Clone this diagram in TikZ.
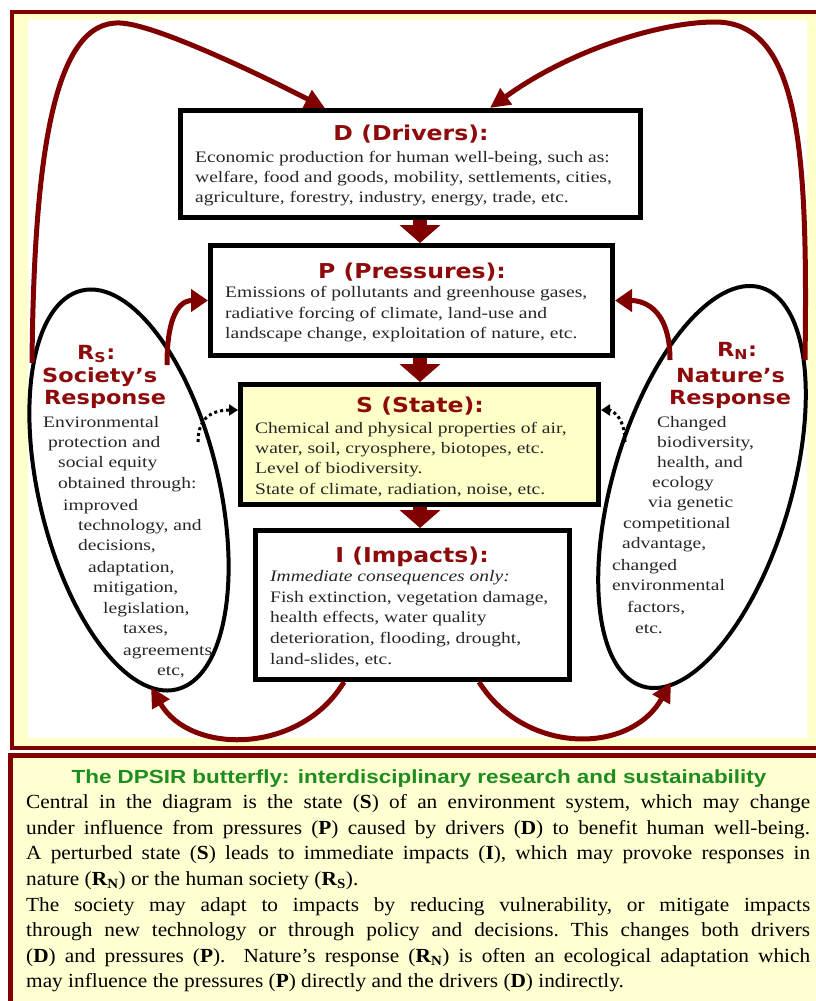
\documentclass[tikz,border=0pt]{standalone}
\usepackage{fontspec}
\setmainfont{Liberation Serif}
\newfontfamily\upserif[FakeStretch=1.22]{Liberation Serif}
\newfontfamily\lowserif[FakeStretch=1.065]{Liberation Serif}
\newfontfamily\upsans[FakeStretch=1.15]{DejaVu Sans}
\newfontfamily\titlesans[FakeStretch=1.18]{Liberation Sans}
\usetikzlibrary{arrows.meta,shapes.geometric}
\definecolor{linered}{HTML}{800000}
\definecolor{titlered}{HTML}{8E0B0B}
\definecolor{bandyellow}{HTML}{FFFFCC}
\definecolor{panelyellow}{HTML}{FFFFD2}
\definecolor{stateyellow}{HTML}{FFFFC8}
\definecolor{titlegreen}{HTML}{1F8C1F}
\definecolor{bodygray}{HTML}{262626}
\tikzset{
  box/.style={draw=black, line width=5pt, fill=white, inner sep=0pt, rectangle},
  boxtitle/.style={anchor=base, inner sep=0pt, text=titlered, font=\upsans\bfseries\fontsize{20.5}{24}\selectfont},
  bodyline/.style={anchor=base west, inner sep=0pt, text=bodygray, font=\upserif\frenchspacing\fontsize{16}{20}\selectfont},
  resptitle/.style={anchor=base west, inner sep=0pt, text=titlered, font=\upsans\bfseries\fontsize{19.5}{23}\selectfont},
  redarc/.style={draw=linered, line width=5pt, -{Triangle[length=20pt,width=19pt]}},
  smallarc/.style={draw=linered, line width=5pt, -{Triangle[length=17pt,width=22pt]}},
  bigarrow/.style={draw=linered, line width=14pt, -{Triangle[length=18pt,width=40pt]}},
  dotarrow/.style={draw=black, line width=3pt, dash pattern=on 3pt off 3pt, -{Triangle[length=9pt,width=11pt]}},
  resp/.style={draw=black, line width=4pt, ellipse, inner sep=0pt},
  bottomline/.style={anchor=base west, inner sep=0pt, text=black, font=\lowserif\frenchspacing\fontsize{20}{25}\selectfont},
}
\begin{document}
\begin{tikzpicture}[x=1pt,y=-1pt]
\useasboundingbox (0,0) rectangle (816,1001);
\clip (0,0) rectangle (816,1001);
% frames
\filldraw[fill=bandyellow, draw=linered, line width=4pt] (12,11.5) rectangle (830,747.5);
\fill[white] (28,20) rectangle (807,738);
\filldraw[fill=panelyellow, draw=linered, line width=5pt] (10.5,755.5) rectangle (830,1010);

% boxes
\node[box, minimum width=460pt, minimum height=107pt] (D) at (410.5,164) {};
\node[box, minimum width=402pt, minimum height=110pt] (P) at (411.5,300.5) {};
\node[box, fill=stateyellow, minimum width=358pt, minimum height=120pt] (S) at (419.5,444.5) {};
\node[box, minimum width=314pt, minimum height=149pt] (I) at (412.5,605) {};

% ellipses
\node[resp, minimum width=180pt, minimum height=410pt, rotate=13.4] (Rs) at (129,490) {};
\node[resp, minimum width=178pt, minimum height=416pt, rotate=-16.5] (Rn) at (702,487) {};

% vertical arrows
\coordinate (ax) at (420,0);
\draw[bigarrow] (D.south -| ax) -- (P.north -| ax);
\draw[bigarrow] (P.south -| ax) -- (S.north -| ax);
\draw[bigarrow] (S.south -| ax) -- (I.north -| ax);

% big arcs
\coordinate (rsTop) at (32,363);
\coordinate (rnTop) at (805,360);
\draw[redarc] (rsTop) .. controls (34,150) and (55,20) .. (120,23)
   .. controls (150,24) and (235,62) .. ([xshift=147pt]D.north west);
\draw[redarc] (rnTop) .. controls (808,150) and (800,22) .. (715,22)
   .. controls (660,22) and (570,50) .. ([xshift=312pt]D.north west);

% small arcs to P
\coordinate (rsP) at (167,365);
\coordinate (rnP) at (670,360);
\draw[smallarc] (rsP) .. controls (167,305) and (185,300.5) .. (P.west);
\draw[smallarc] (rnP) .. controls (670,305) and (640,300.5) .. (P.east);

% dotted arrows to S
\coordinate (rsS) at (198,442);
\coordinate (rnS) at (625,442);
\draw[dotarrow] (rsS) .. controls (198,415) and (215,410) .. ([yshift=-28pt]S.north west);
\draw[dotarrow] (rnS) .. controls (625,415) and (610,410) .. ([yshift=-28pt]S.north east);

% bottom arcs
\coordinate (rsBot) at (151,687);
\coordinate (rnBot) at (671,682);
\draw[redarc] ([xshift=91pt]I.south west) .. controls (300,755) and (190,755) .. (rsBot);
\draw[redarc] ([xshift=226pt]I.south west) .. controls (525,755) and (630,755) .. (rnBot);

% D text
\node[boxtitle] (dT) at (411,140) {D (Drivers):};
\node[bodyline] (d1) at (195,162) {Economic production for human well-being, such as:};
\node[bodyline] (d2) at (195,182) {welfare, food and goods, mobility, settlements, cities,};
\node[bodyline] (d3) at (195,202) {agriculture, forestry, industry, energy, trade, etc.};
% P text
\node[boxtitle] (pT) at (412,278) {P (Pressures):};
\node[bodyline] (p1) at (225,297) {Emissions of pollutants and greenhouse gases,};
\node[bodyline] (p2) at (225,318) {radiative forcing of climate, land-use and};
\node[bodyline] (p3) at (225,338) {landscape change, exploitation of nature, etc.};
% S text
\node[boxtitle] (sT) at (420,412) {S (State):};
\node[bodyline] (s1) at (255,433) {Chemical and physical properties of air,};
\node[bodyline] (s2) at (255,453) {water, soil, cryosphere, biotopes, etc.};
\node[bodyline] (s3) at (255,473) {Level of biodiversity.};
\node[bodyline] (s4) at (255,494) {State of climate, radiation, noise, etc.};
% I text
\node[boxtitle] (iT) at (412,562) {I (Impacts):};
\node[bodyline, font=\upserif\itshape\fontsize{16}{20}\selectfont] (i0) at (270,581) {Immediate consequences only:};
\node[bodyline] (i1) at (270,602) {Fish extinction, vegetation damage,};
\node[bodyline] (i2) at (270,622) {health effects, water quality};
\node[bodyline] (i3) at (270,643) {deterioration, flooding, drought,};
\node[bodyline] (i4) at (270,664) {land-slides, etc.};

% Rs text
\node[resptitle] (rsT1) at (77,359) {R\textsubscript{S}:};
\node[resptitle] (rsT2) at (42,382) {Society’s};
\node[resptitle] (rsT3) at (44,404) {Response};
\node[bodyline] (rs1) at (43,427) {Environmental};
\node[bodyline] (rs2) at (48,447) {protection and};
\node[bodyline] (rs3) at (58,467) {social equity};
\node[bodyline] (rs4) at (58,488) {obtained through:};
\node[bodyline] (rs5) at (63,510) {improved};
\node[bodyline] (rs6) at (78,530) {technology, and};
\node[bodyline] (rs7) at (78,550) {decisions,};
\node[bodyline] (rs8) at (88,572) {adaptation,};
\node[bodyline] (rs9) at (93,592) {mitigation,};
\node[bodyline] (rs10) at (103,613) {legislation,};
\node[bodyline] (rs11) at (123,633) {taxes,};
\node[bodyline] (rs12) at (123,655) {agreements};
\node[bodyline] (rs13) at (157,675) {etc,};

% Rn text
\node[resptitle] (rnT1) at (717,356) {R\textsubscript{N}:};
\node[resptitle] (rnT2) at (676,382) {Nature’s};
\node[resptitle] (rnT3) at (669,404) {Response};
\node[bodyline] (rn1) at (657,427) {Changed};
\node[bodyline] (rn2) at (657,447) {biodiversity,};
\node[bodyline] (rn3) at (657,467) {health, and};
\node[bodyline] (rn4) at (652,487) {ecology};
\node[bodyline] (rn5) at (648,507) {via genetic};
\node[bodyline] (rn6) at (623,528) {competitional};
\node[bodyline] (rn7) at (622,548) {advantage,};
\node[bodyline] (rn8) at (612,570) {changed};
\node[bodyline] (rn9) at (612,590) {environmental};
\node[bodyline] (rn10) at (627,612) {factors,};
\node[bodyline] (rn11) at (635,633) {etc.};

% bottom panel text
\node[anchor=base, inner sep=0pt, text=titlegreen, font=\titlesans\bfseries\fontsize{19}{22}\selectfont] (bt) at (419,783) {The DPSIR butterfly: interdisciplinary research and sustainability};
\node[bottomline] (b1) at (26,808.6) {\makebox[784pt][s]{Central in the diagram is the state (\textbf{S}) of an environment system, which may change}};
\node[bottomline] (b2) at (26,834.2) {\makebox[784pt][s]{under influence from pressures (\textbf{P}) caused by drivers (\textbf{D}) to benefit human well-being.}};
\node[bottomline] (b3) at (26,859.8) {\makebox[784pt][s]{A perturbed state (\textbf{S}) leads to immediate impacts (\textbf{I}), which may provoke responses in}};
\node[bottomline] (b4) at (26,885.4) {nature (\textbf{R}\textsubscript{\textbf{N}}) or the human society (\textbf{R}\textsubscript{\textbf{S}}).};
\node[bottomline] (b5) at (26,911.0) {\makebox[784pt][s]{The society may adapt to impacts by reducing vulnerability, or mitigate impacts}};
\node[bottomline] (b6) at (26,936.6) {\makebox[784pt][s]{through new technology or through policy and decisions. This changes both drivers}};
\node[bottomline] (b7) at (26,962.2) {\makebox[784pt][s]{(\textbf{D}) and pressures (\textbf{P}).\ \ Nature’s response (\textbf{R}\textsubscript{\textbf{N}}) is often an ecological adaptation which}};
\node[bottomline] (b8) at (26,987.8) {may influence the pressures (\textbf{P}) directly and the drivers (\textbf{D}) indirectly.};
\end{tikzpicture}
\end{document}
